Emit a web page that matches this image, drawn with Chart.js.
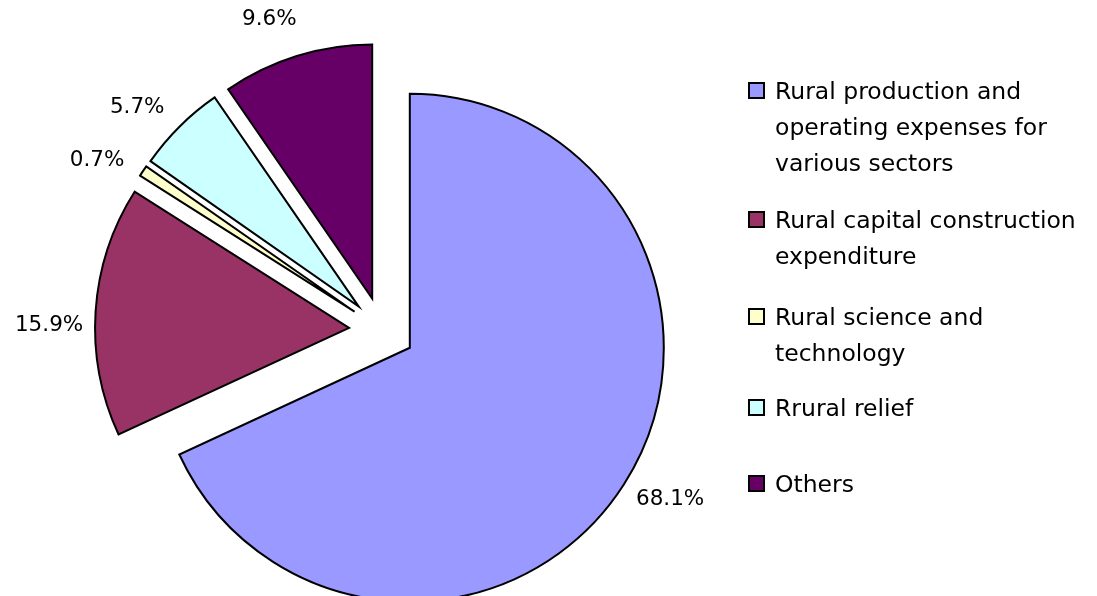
<!DOCTYPE html>
<html>
<head>
  <title>Rural expenditure breakdown</title>
  <script src="https://cdn.jsdelivr.net/npm/chart.js"></script>
  <style>
    body { margin: 0; background: #fff; font-family: "DejaVu Sans", Tahoma, sans-serif; }
    #wrap { position: relative; width: 1097px; height: 596px; overflow: hidden; }
    #pie { position: absolute; left: 0; top: 0; }
    .legend-item { position: absolute; left: 748px; font-size: 23.5px; line-height: 36px; color: #000; }
    .legend-box { position: absolute; left: 0; width: 13px; height: 13px; border: 2px solid #000; }
    .legend-text { position: absolute; left: 27px; white-space: nowrap; }
  </style>
</head>
<body>
  <div id="wrap">
    <canvas id="pie" width="1097" height="596"></canvas>
    <div id="legend"></div>
  </div>

  <script>
    const categories = [
      ['Rural production and', 'operating expenses for', 'various sectors'],
      ['Rural capital construction', 'expenditure'],
      ['Rural science and', 'technology'],
      ['Rrural relief'],
      ['Others']
    ];
    const shares = [68.1, 15.9, 0.7, 5.7, 9.6];
    const sliceColors = ['#9999FF', '#993366', '#FFFFCC', '#CCFFFF', '#660066'];
    // first-line centre of each legend entry
    const legendTops = [91, 220, 317, 408, 484];

    // every slice pulled out the same distance along its bisector
    const explode = 33;

    // html legend on the right
    const legend = document.getElementById('legend');
    categories.forEach((lines, i) => {
      const item = document.createElement('div');
      item.className = 'legend-item';
      item.style.top = (legendTops[i] - 18) + 'px';
      const box = document.createElement('span');
      box.className = 'legend-box';
      box.style.background = sliceColors[i];
      box.style.top = '9px';
      const txt = document.createElement('span');
      txt.className = 'legend-text';
      txt.innerHTML = lines.join('<br>');
      item.appendChild(box);
      item.appendChild(txt);
      legend.appendChild(item);
    });

    // chart.js' own offset also grows the radius and trims the angle,
    // so shift each arc by hand instead
    const explodeSlices = {
      id: 'explodeSlices',
      beforeDatasetsDraw(chart) {
        const ctx = chart.ctx;
        chart.getDatasetMeta(0).data.forEach(arc => {
          const mid = (arc.startAngle + arc.endAngle) / 2;
          ctx.save();
          ctx.translate(Math.cos(mid) * explode, Math.sin(mid) * explode);
          arc.draw(ctx);
          ctx.restore();
        });
        return false;
      }
    };

    // percentage labels outside each slice
    const pctLabels = {
      id: 'pctLabels',
      afterDraw(chart) {
        const ctx = chart.ctx;
        const meta = chart.getDatasetMeta(0);
        ctx.save();
        ctx.font = '21.5px "DejaVu Sans", Tahoma, sans-serif';
        ctx.fillStyle = '#000';
        ctx.textAlign = 'center';
        ctx.textBaseline = 'middle';
        meta.data.forEach((arc, i) => {
          const p = arc.getProps(['x', 'y', 'startAngle', 'endAngle', 'outerRadius'], true);
          const mid = (p.startAngle + p.endAngle) / 2 - 2.5 * Math.PI / 180;
          const r = p.outerRadius + explode + 46;
          ctx.fillText(shares[i].toFixed(1) + '%', p.x + Math.cos(mid) * r, p.y + Math.sin(mid) * r + 3);
        });
        ctx.restore();
      }
    };

    new Chart(document.getElementById('pie'), {
      type: 'pie',
      data: {
        labels: categories.map(l => l.join(' ')),
        datasets: [{
          data: shares,
          backgroundColor: sliceColors,
          borderColor: '#000',
          borderWidth: 2,
          borderJoinStyle: 'miter',
          offset: 0,
          hoverOffset: 0
        }]
      },
      options: {
        responsive: false,
        animation: false,
        radius: 254,
        layout: { padding: { left: 0, right: 333, top: 64, bottom: 0 } },
        plugins: { legend: { display: false }, tooltip: { enabled: false } }
      },
      plugins: [explodeSlices, pctLabels]
    });
  </script>
</body>
</html>
